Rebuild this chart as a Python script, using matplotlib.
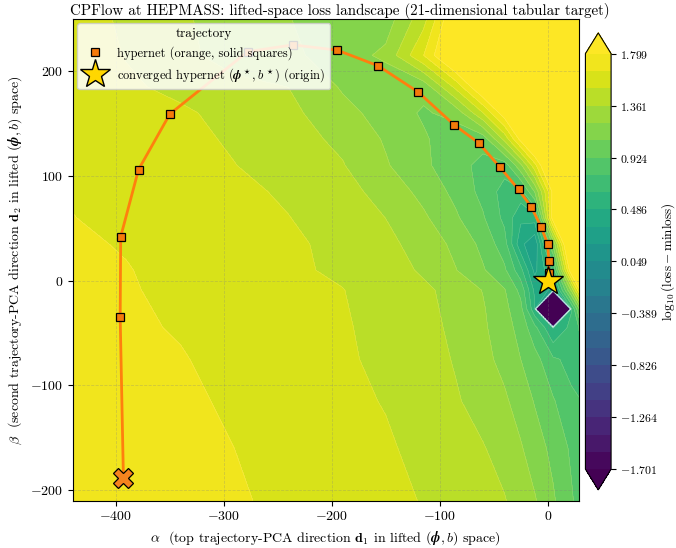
import numpy as np
import matplotlib
matplotlib.use("Agg")
import matplotlib.pyplot as plt

plt.rcParams.update({
    "font.family": "serif",
    "font.serif": ["cmr10"],
    "mathtext.fontset": "cm",
    "axes.formatter.use_mathtext": True,
    "axes.unicode_minus": True,
    "font.size": 10,
})

# ---- loss landscape grid: log10(loss - minloss) on the (alpha, beta) plane ----
alpha_nodes = [-440, -390, -340, -290, -240, -190, -150, -115, -85, -60, -40, -25, -12, 5, 22, 29]
beta_nodes = [-210, -160, -115, -75, -45, -27, -9, 10, 35, 60, 85, 110, 135, 160, 185, 215, 250]
log_loss = [
    [1.76, 1.73, 1.70, 1.665, 1.63, 1.58, 1.545, 1.50, 1.46, 1.41, 1.37, 1.30, 1.23, 1.09, 0.94, 0.88],
    [1.74, 1.71, 1.68, 1.653, 1.61, 1.565, 1.525, 1.47, 1.42, 1.37, 1.31, 1.23, 1.14, 1.03, 0.90, 0.85],
    [1.72, 1.69, 1.67, 1.64, 1.585, 1.54, 1.50, 1.44, 1.375, 1.31, 1.24, 1.15, 1.06, 0.94, 0.80, 0.78],
    [1.70, 1.675, 1.66, 1.62, 1.57, 1.525, 1.48, 1.42, 1.35, 1.26, 1.17, 1.07, 0.98, 0.80, 0.74, 0.76],
    [1.69, 1.67, 1.645, 1.61, 1.56, 1.52, 1.47, 1.41, 1.33, 1.24, 1.13, 1.02, 0.82, 0.48, 0.68, 0.78],
    [1.685, 1.665, 1.64, 1.60, 1.555, 1.515, 1.465, 1.40, 1.32, 1.23, 1.11, 0.97, 0.52, -30.0, 0.62, 1.05],
    [1.68, 1.66, 1.635, 1.595, 1.55, 1.51, 1.46, 1.39, 1.31, 1.21, 1.08, 0.88, 0.45, 0.30, 1.25, 1.75],
    [1.675, 1.658, 1.62, 1.565, 1.525, 1.49, 1.43, 1.34, 1.22, 1.085, 0.95, 0.68, 0.30, 0.65, 1.95, 2.30],
    [1.67, 1.645, 1.60, 1.56, 1.525, 1.48, 1.40, 1.30, 1.18, 1.03, 0.84, 0.38, 0.22, 1.10, 2.30, 2.50],
    [1.655, 1.63, 1.59, 1.55, 1.51, 1.45, 1.36, 1.24, 1.09, 0.94, 0.74, 0.52, 0.55, 1.90, 2.60, 2.70],
    [1.645, 1.61, 1.575, 1.535, 1.49, 1.41, 1.31, 1.17, 1.03, 0.88, 0.72, 0.72, 1.08, 1.85, 2.60, 2.70],
    [1.635, 1.60, 1.56, 1.51, 1.45, 1.37, 1.23, 1.10, 0.98, 0.88, 0.84, 1.18, 1.60, 2.20, 2.70, 2.80],
    [1.625, 1.59, 1.545, 1.49, 1.42, 1.33, 1.20, 1.09, 0.98, 0.98, 1.40, 1.85, 2.20, 2.60, 2.90, 2.90],
    [1.615, 1.575, 1.53, 1.46, 1.40, 1.26, 1.16, 1.05, 1.12, 1.50, 1.90, 2.30, 2.60, 2.90, 3.00, 3.00],
    [1.60, 1.53, 1.47, 1.40, 1.36, 1.20, 1.10, 1.12, 1.55, 2.00, 2.40, 2.70, 2.90, 3.00, 3.10, 3.10],
    [1.59, 1.50, 1.40, 1.30, 1.25, 1.14, 1.25, 1.65, 2.10, 2.50, 2.80, 3.00, 3.10, 3.20, 3.30, 3.30],
    [1.58, 1.48, 1.38, 1.30, 1.22, 1.14, 1.14, 1.45, 2.00, 2.50, 2.80, 3.00, 3.10, 3.20, 3.30, 3.30],
]

# ---- optimisation trajectory projected onto the two PCA directions ----
start_alpha, start_beta = -393, -188
traj_alpha = [-396, -395.5, -379, -350, -278, -236, -195, -157, -120, -87, -64, -44,
              -27, -15, -6, 0, 1, 1]
traj_beta = [-34.5, 42, 106, 159, 218.5, 225, 220, 205, 180, 149, 131.5, 108,
             87, 70, 51, 35, 19, 7.5]
opt_alpha, opt_beta = 0, 0

level_lo, level_hi, n_levels = -1.701, 1.799, 25

A, B = np.meshgrid(alpha_nodes, beta_nodes)
Z = np.array(log_loss)
levels = np.linspace(level_lo, level_hi, n_levels)

fig = plt.figure(figsize=(6.76, 5.48), dpi=100)
ax = fig.add_axes([0.1075, 0.0863, 0.749, 0.8796])

cf = ax.contourf(A, B, Z, levels=levels, cmap="viridis", extend="both")
ax.contour(A, B, Z, levels=levels, colors="white", linewidths=0.35, alpha=0.25)

ax.grid(True, ls="--", lw=0.6, color="gray", alpha=0.3)

line_alpha = [start_alpha] + traj_alpha + [opt_alpha]
line_beta = [start_beta] + traj_beta + [opt_beta]
ax.plot(line_alpha, line_beta, color="#ff7f0e", lw=2.0, zorder=3)
ax.plot(traj_alpha, traj_beta, ls="none", marker="s", ms=5.2, mfc="#f57a0a",
        mec="black", mew=0.9, zorder=4, label="hypernet (orange, solid squares)")
ax.plot([start_alpha], [start_beta], ls="none", marker="X", ms=15, mfc="#f5841e",
        mec="black", mew=0.9, zorder=5)
ax.plot([opt_alpha], [opt_beta], ls="none", marker="*", ms=22, mfc="#ffd700",
        mec="black", mew=1.0, zorder=6,
        label=r"converged hypernet $(\boldsymbol{\phi}^\star, b^\star)$ (origin)")

ax.set_xlim(-440, 29)
ax.set_ylim(-210, 250)
ax.set_xticks([-400, -300, -200, -100, 0])
ax.set_yticks([-200, -100, 0, 100, 200])

ax.set_xlabel(r"$\alpha$  (top trajectory-PCA direction $\mathbf{d}_1$ in lifted $(\boldsymbol{\phi}, b)$ space)")
ax.set_ylabel(r"$\beta$  (second trajectory-PCA direction $\mathbf{d}_2$ in lifted $(\boldsymbol{\phi}, b)$ space)")
ax.set_title("CPFlow at HEPMASS: lifted-space loss landscape (21-dimensional tabular target)",
             fontsize=10.8, pad=3, x=0.528)

leg = ax.legend(loc="upper left", title="trajectory", fontsize=9, title_fontsize=9.5,
                framealpha=0.85, borderaxespad=0.35)

cax = fig.add_axes([0.866, 0.106, 0.038, 0.834])
ticks = np.linspace(level_lo, level_hi, 9)
cb = fig.colorbar(cf, cax=cax, ticks=ticks)
cb.set_ticklabels([f"${t:.3f}$" for t in ticks], fontsize=8.5)
cb.ax.tick_params(pad=3)
cb.set_label(r"$\log_{10}(\mathrm{loss}-\mathrm{minloss})$", fontsize=9.5)
cb.ax.yaxis.set_label_coords(2.86, 0.5)

fig.savefig("out.png", dpi=100)
